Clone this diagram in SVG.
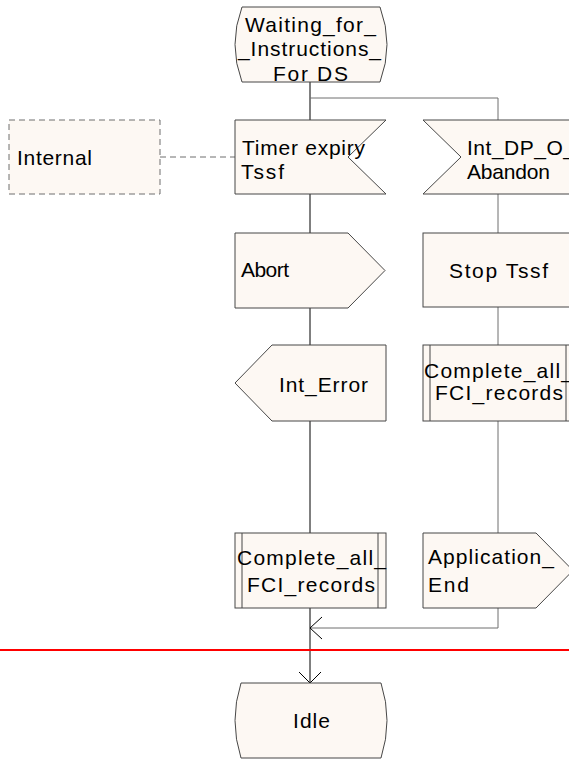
<svg xmlns="http://www.w3.org/2000/svg" width="569" height="761" viewBox="0 0 569 761">
<style>
.s{fill:#fdf8f3;stroke:#474747;stroke-width:1}
.t{font-family:"Liberation Sans",Arial,sans-serif;font-size:21px;fill:#000}
.l{fill:none;stroke:#000;stroke-width:1}
.g{fill:none;stroke:#6e6e6e;stroke-width:1}
</style>
<rect width="569" height="761" fill="#fff"/>
<g id="connectors">
<path class="l" d="M310,82 V120 M310,194 V233 M310,308 V345 M310,421 V533 M310,608 V683"/>
<path class="g" d="M310,98 H498 V120 M498,194 V233 M498,307 V345 M498,421 V533 M498,608 V628 H310"/>
<path class="l" d="M322,617 L310,628 L322,639"/>
<path class="l" d="M299,672 L310,683 L321,672"/>
<path d="M160,157 H235" fill="none" stroke="#6e6e6e" stroke-dasharray="6,4"/>
</g>
<g id="waiting">
<path class="s" d="M242,7 H380 Q394,44.5 380,82 H242 Q228,44.5 242,7 Z"/>
<text class="t" x="245" y="32" textLength="131" lengthAdjust="spacing">Waiting_for_</text>
<text class="t" x="238" y="56" textLength="143" lengthAdjust="spacing">_Instructions_</text>
<text class="t" x="273" y="81" textLength="75" lengthAdjust="spacing">For DS</text>
</g>
<g id="internal">
<rect x="9" y="120" width="151" height="74" fill="#fdf8f3" stroke="#6e6e6e" stroke-dasharray="6,4"/>
<text class="t" x="17" y="165" textLength="75" lengthAdjust="spacing">Internal</text>
</g>
<g id="timer">
<path class="s" d="M235,120 H386 L348,157 L386,194 H235 Z"/>
<text class="t" x="242" y="155" textLength="123" lengthAdjust="spacing">Timer expiry</text>
<text class="t" x="241" y="179" textLength="43" lengthAdjust="spacing">Tssf</text>
</g>
<g id="abandon">
<path class="s" d="M423,120 H574 V194 H423 L461,157 Z"/>
<text class="t" x="467" y="155" textLength="108" lengthAdjust="spacing">Int_DP_O_</text>
<text class="t" x="467" y="179" textLength="83" lengthAdjust="spacing">Abandon</text>
</g>
<g id="abort">
<path class="s" d="M235,233 H348 L385,270.5 L348,308 H235 Z"/>
<text class="t" x="241" y="277" textLength="48" lengthAdjust="spacing">Abort</text>
</g>
<g id="stop">
<rect class="s" x="423" y="233" width="151" height="74"/>
<text class="t" x="449" y="278" textLength="99" lengthAdjust="spacing">Stop Tssf</text>
</g>
<g id="interror">
<path class="s" d="M272,345 H386 V421 H272 L235,383 Z"/>
<text class="t" x="279" y="392" textLength="89" lengthAdjust="spacing">Int_Error</text>
</g>
<g id="complete2">
<rect class="s" x="423" y="345" width="151" height="76"/>
<path fill="none" stroke="#474747" d="M430,345 V421 M566,345 V421"/>
<text class="t" x="424" y="378" textLength="149" lengthAdjust="spacing">Complete_all_</text>
<text class="t" x="435" y="400" textLength="128" lengthAdjust="spacing">FCI_records</text>
</g>
<g id="complete1">
<rect class="s" x="235" y="533" width="151" height="75"/>
<path fill="none" stroke="#474747" d="M242,533 V608 M378,533 V608"/>
<text class="t" x="237" y="565" textLength="149" lengthAdjust="spacing">Complete_all_</text>
<text class="t" x="247" y="592" textLength="128" lengthAdjust="spacing">FCI_records</text>
</g>
<g id="append">
<path class="s" d="M423,533 H536 L573,570.5 L536,608 H423 Z"/>
<text class="t" x="428" y="564" textLength="126" lengthAdjust="spacing">Application_</text>
<text class="t" x="428" y="592" textLength="41" lengthAdjust="spacing">End</text>
</g>
<line x1="0" y1="650" x2="569" y2="650" stroke="#ff0000" stroke-width="2"/>
<g id="idle">
<path class="s" d="M241,683 H381 Q393,720.5 381,758 H241 Q229,720.5 241,683 Z"/>
<text class="t" x="293" y="728" textLength="37" lengthAdjust="spacing">Idle</text>
</g>
</svg>
